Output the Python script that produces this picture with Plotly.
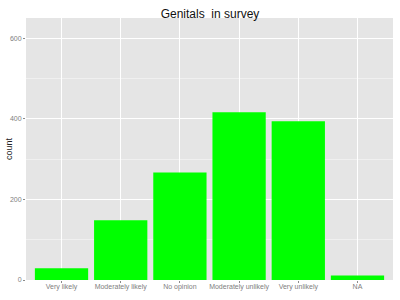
import plotly.graph_objects as go

categories = ["Very likely", "Moderately likely", "No opinion", "Moderately unlikely", "Very unlikely", "NA"]
counts = [29, 148, 267, 416, 394, 11]
y_ticks = [0, 200, 400, 600]

fig = go.Figure()
fig.add_trace(go.Bar(
    x=categories, y=counts, width=0.9,
    marker=dict(color="#00FF00", line=dict(width=0)),
))
fig.update_layout(
    width=400, height=300,
    margin=dict(l=26, r=7, t=18, b=20),
    paper_bgcolor="white", plot_bgcolor="#E5E5E5",
    title=dict(text="Genitals&nbsp; in survey", x=0.525, xanchor="center", y=0.955, yanchor="middle",
               font=dict(family="Liberation Sans, Arial", size=12, color="#111111")),
    font=dict(family="Liberation Sans, Arial"),
    showlegend=False, bargap=0.1,
    annotations=[dict(text="count", xref="paper", yref="paper", x=-0.046, y=0.5,
                      xanchor="center", yanchor="middle", textangle=-90, showarrow=False,
                      font=dict(size=9, color="#222222"))],
)
fig.update_xaxes(
    range=[-0.6, 5.6], showgrid=True, gridcolor="white", gridwidth=1, automargin=False,
    ticks="outside", ticklen=2, tickcolor="#8a8a8a", ticklabelstandoff=-2,
    tickfont=dict(size=7, color="#808080"), zeroline=False, showline=False,
)
fig.update_yaxes(
    range=[0, 650], tickvals=y_ticks, showgrid=True, gridcolor="white", gridwidth=1, automargin=False,
    minor=dict(tickvals=[100, 300, 500], showgrid=True, gridcolor="#F0F0F0", gridwidth=0.5),
    ticks="outside", ticklen=2, tickcolor="#8a8a8a",
    tickfont=dict(size=7, color="#808080"), zeroline=False, showline=False,
)
fig.write_html("out.html")
